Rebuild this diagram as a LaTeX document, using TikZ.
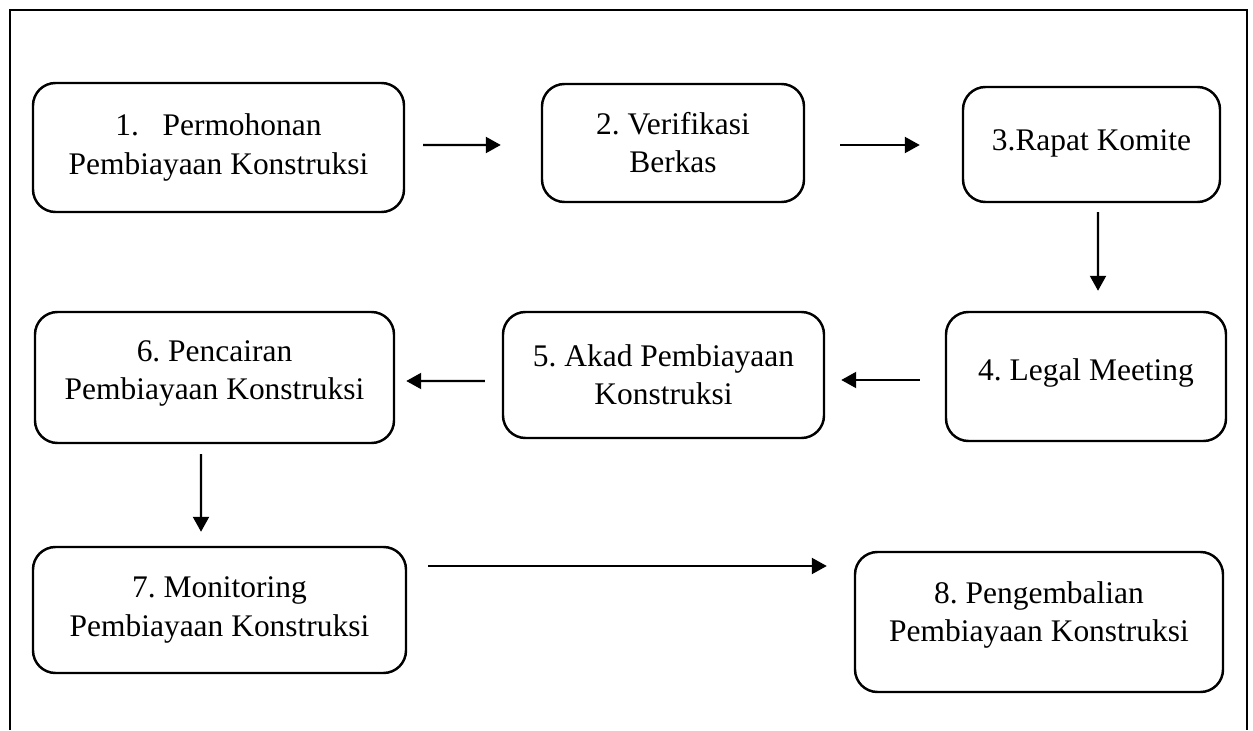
\documentclass[tikz,border=0pt]{standalone}
\usepackage{fontspec}
\setmainfont{Liberation Serif}
\usepackage{tikz}
\usetikzlibrary{positioning, arrows.meta}
\frenchspacing

\begin{document}
\begin{tikzpicture}[
    stepbox/.style={draw, line width=1.4pt, rounded corners=0.45cm, inner sep=0pt, align=center, font=\fontsize{17.9}{21.7}\selectfont},
    lift/.style={execute at end node={\rule[-#1]{0pt}{#1}}},
    arr/.style={-{Triangle[length=0.3cm, width=0.32cm]}, line width=1.25pt}
]
\useasboundingbox (0,0) rectangle (25.06,14.6);
% outer frame, open at the bottom
\draw[line width=1.2pt] (0.2,0) -- (0.2,14.4) -- (24.94,14.4) -- (24.94,0);

\node[stepbox, minimum width=7.42cm, minimum height=2.58cm] (b1) at (4.37, 11.65) {1.\hspace*{0.75em}Permohonan\\Pembiayaan Konstruksi};
\node[stepbox, minimum width=5.24cm, minimum height=2.36cm] (b2) at (13.46, 11.74) {2. Verifikasi\\Berkas};
\node[stepbox, minimum width=5.14cm, minimum height=2.30cm, lift=0.18cm] (b3) at (21.83, 11.71) {3.Rapat Komite};
\node[stepbox, minimum width=5.60cm, minimum height=2.58cm, lift=0.28cm] (b4) at (21.72, 7.07) {4. Legal Meeting};
\node[stepbox, minimum width=6.42cm, minimum height=2.52cm] (b5) at (13.27, 7.10) {5. Akad Pembiayaan\\Konstruksi};
\node[stepbox, minimum width=7.18cm, minimum height=2.62cm, lift=0.28cm] (b6) at (4.29, 7.05) {6. Pencairan\\Pembiayaan Konstruksi};
\node[stepbox, minimum width=7.46cm, minimum height=2.52cm] (b7) at (4.39, 2.40) {7. Monitoring\\Pembiayaan Konstruksi};
\node[stepbox, minimum width=7.36cm, minimum height=2.80cm, lift=0.4cm] (b8) at (20.78, 2.16) {8. Pengembalian\\Pembiayaan Konstruksi};

\draw[arr] ([shift={(0.36,0.05)}]b1.east) -- ([shift={(-0.8,-0.04)}]b2.west);
\draw[arr] ([shift={(0.7,-0.04)}]b2.east) -- ([shift={(-0.84,-0.01)}]b3.west);
\draw[arr] ([shift={(0.13,-0.18)}]b3.south) -- ([shift={(0.24,0.4)}]b4.north);
\draw[arr] ([shift={(-0.5,-0.07)}]b4.west) -- ([shift={(0.32,-0.10)}]b5.east);
\draw[arr] ([shift={(-0.34,-0.12)}]b5.west) -- ([shift={(0.22,-0.07)}]b6.east);
\draw[arr] ([shift={(-0.27,-0.2)}]b6.south) -- ([shift={(-0.37,0.28)}]b7.north);
\draw[arr] ([shift={(0.42,0.88)}]b7.east) -- ([shift={(-0.54,1.12)}]b8.west);
\end{tikzpicture}
\end{document}
